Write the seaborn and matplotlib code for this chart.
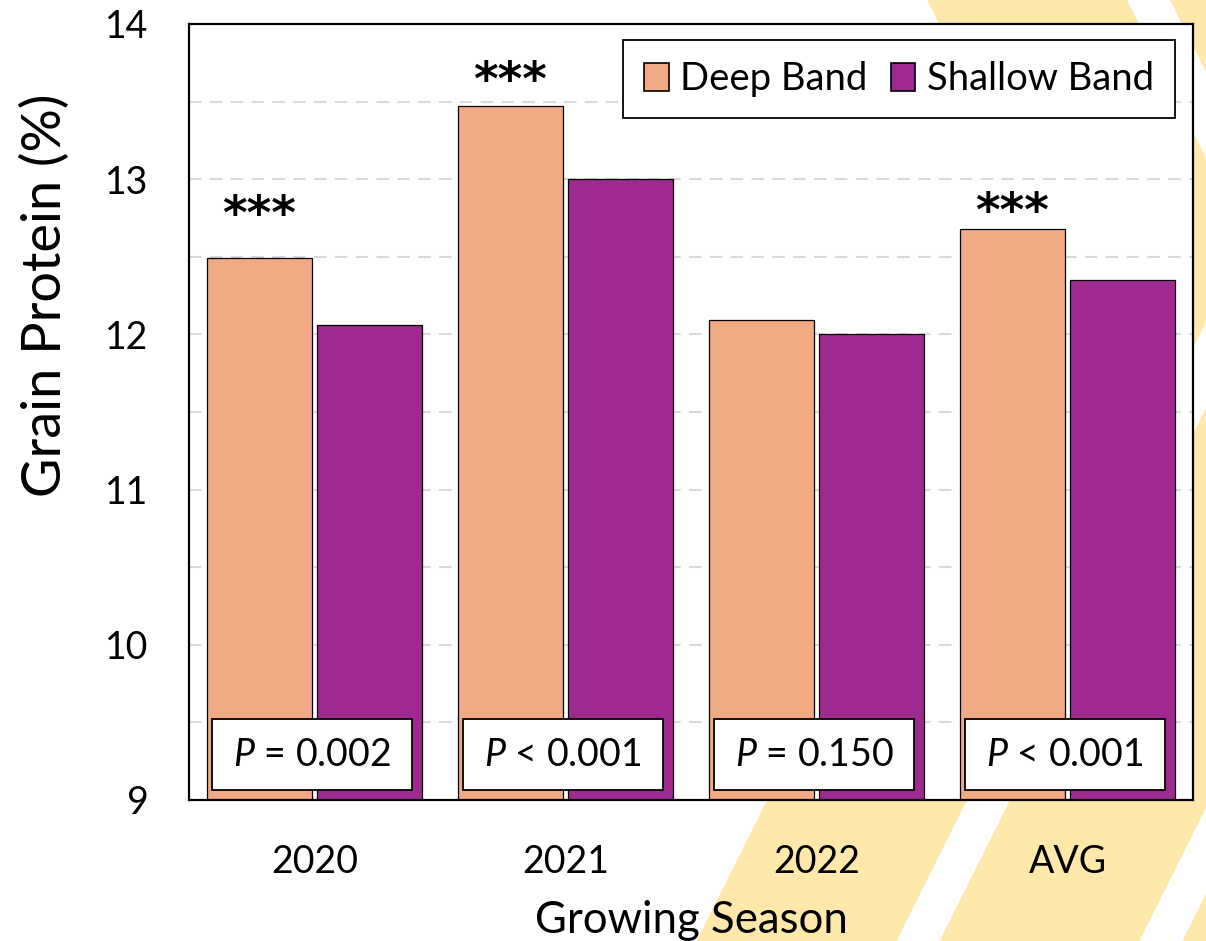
# %%
import pandas as pd
import seaborn as sns
import matplotlib.pyplot as plt
from matplotlib.patches import Patch, Polygon, Rectangle
from matplotlib.ticker import MultipleLocator

# %%
# Grain protein by growing season and fertilizer band depth
seasons = ["2020", "2021", "2022", "AVG"]
deep_band = [12.49, 13.47, 12.09, 12.68]
shallow_band = [12.06, 13.00, 12.00, 12.35]
p_values = ["= 0.002", "< 0.001", "= 0.150", "< 0.001"]
signif = ["***", "***", "", "***"]

df = pd.DataFrame({
    "season": seasons * 2,
    "protein": deep_band + shallow_band,
    "placement": ["Deep Band"] * len(seasons) + ["Shallow Band"] * len(seasons),
})

# %%
sns.set_style("white")
plt.rcParams["font.family"] = ["Lato", "DejaVu Sans"]
plt.rcParams["mathtext.fontset"] = "custom"
plt.rcParams["mathtext.rm"] = "Lato"
plt.rcParams["mathtext.it"] = "Lato:italic"
for k in ["text.color", "axes.labelcolor", "xtick.color", "ytick.color"]:
    plt.rcParams[k] = "black"

W, H = 1206, 941
fig = plt.figure(figsize=(W / 100, H / 100), dpi=100)

# yellow chevron stripes in the background
def chevron(a, w, vy=240, s=0.5):
    pts = [(a - s * vy, 0), (a, vy), (a - s * (H - vy), H),
           (a + w - s * (H - vy), H), (a + w, vy), (a + w - s * vy, 0)]
    return [(x / W, 1 - y / H) for x, y in pts]

for a in [1047, 1290, 1533]:
    fig.patches.append(Polygon(chevron(a, 200), closed=True, facecolor="#FEE9AA",
                               edgecolor="none", transform=fig.transFigure, zorder=-1))

ax = fig.add_axes([189 / W, 1 - 800 / H, (1193 - 189) / W, (800 - 24) / H])
ax.set_facecolor("white")

colors = ["#F2AA84", "#9E2A8F"]
sns.barplot(data=df, x="season", y="protein", hue="placement", palette=colors,
            saturation=1, width=0.875, gap=0.05, edgecolor="black", linewidth=0.9,
            legend=False, ax=ax)

ax.set_ylim(9, 14)
ax.yaxis.set_major_locator(MultipleLocator(1))
ax.yaxis.set_minor_locator(MultipleLocator(0.5))
ax.grid(axis="y", which="both", color="#D9D9D9", linestyle=(0, (6, 4)), linewidth=1.5)
ax.set_axisbelow(True)
for sp in ax.spines.values():
    sp.set_color("black")
    sp.set_linewidth(1.6)

ax.tick_params(axis="both", which="both", length=0, labelsize=27)
ax.tick_params(axis="y", pad=29)
ax.tick_params(axis="x", pad=32)
ax.set_xlabel("Growing Season", fontsize=31.5, labelpad=14)
ax.set_ylabel("Grain Protein (%)", fontsize=39)
ax.yaxis.set_label_coords(-0.118, 0.651)

# significance stars above deep band bars
star_offset = [0.27, 0.15, 0.0, 0.10]
for i, s in enumerate(signif):
    if s:
        ax.text(i - 0.22, deep_band[i] + star_offset[i], s, ha="center", va="center",
                fontsize=34, fontweight="bold", family="DejaVu Sans")

# P value boxes at the bottom of each group
for i, p in enumerate(p_values):
    ax.add_patch(Rectangle((i - 0.408, 9.065), 0.797, 0.455, facecolor="white",
                           edgecolor="black", linewidth=1.3, zorder=5))
    ax.text(i - 0.01, 9.29, r"$\mathit{P}$ " + p, ha="center", va="center",
            fontsize=27, zorder=6)

handles = [Patch(facecolor=c, edgecolor="black", linewidth=1.2) for c in colors]
ax.legend(handles, ["Deep Band", "Shallow Band"], ncol=2, loc="upper right",
          bbox_to_anchor=(1 - 18 / 1004, 1 - 16 / 776), borderaxespad=0,
          fontsize=27.5, frameon=True, fancybox=False, framealpha=1,
          edgecolor="black", handlelength=0.65, handleheight=0.75,
          handletextpad=0.3, columnspacing=0.6, borderpad=0.55)
ax.get_legend().get_frame().set_linewidth(1.3)

fig.savefig("out.png", dpi=100)
